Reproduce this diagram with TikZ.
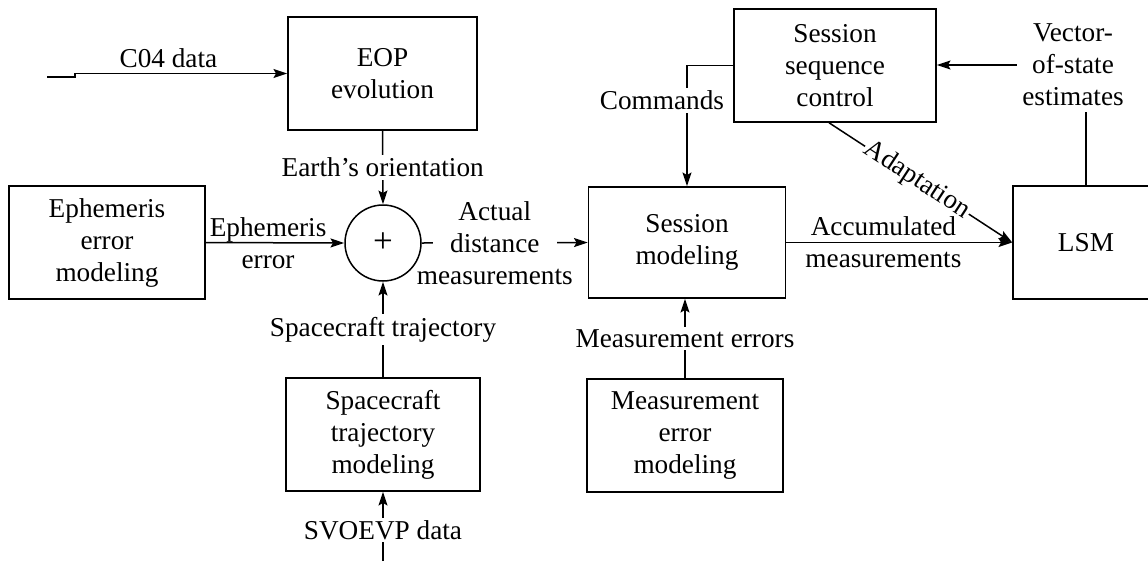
\documentclass[tikz,border=0pt]{standalone}
\usepackage{fontspec}
\setmainfont{Liberation Serif}
\usetikzlibrary{arrows.meta}
\tikzset{
  blk/.style={draw, minimum width=78.4pt, minimum height=45.2pt, align=center, inner sep=1pt},
  sumc/.style={draw, circle, minimum size=30.4pt, inner sep=0pt, font=\fontsize{14}{14}\selectfont},
  lbl/.style={fill=white, inner sep=1pt},
  arr/.style={-{Stealth[length=5.5pt,width=3.6pt,inset=1pt]}}
}
\newcommand{\wbg}[1]{{\setlength{\fboxsep}{0pt}\colorbox{white}{#1}}}
\begin{document}
\begin{tikzpicture}
    [x=0.4pt, y=-0.4pt, line width=0.6pt, font=\fontsize{10.9}{12.8}\selectfont]
    \useasboundingbox (0,0) rectangle (1148,561);
    %blocks
    \node[blk, minimum width=75.6pt] (eop) at (382.5,73.5) {EOP\\evolution};
    \node[blk] (eph) at (107,242.5) {Ephemeris\\error\\modeling};
    \node[sumc] (sum) at (383,243) {+};
    \node[blk, minimum width=78.8pt, minimum height=44.4pt] (sm) at (687,242.5) {Session\\modeling};
    \node[blk, minimum width=80.8pt] (ssc) at (835,65.5) {Session\\sequence\\control};
    \node[blk, minimum width=58.4pt] (lsm) at (1086,242.5) {LSM};
    \node[blk, minimum width=77.6pt] (stm) at (383,434.5) {Spacecraft\\trajectory\\modeling};
    \node[blk] (mem) at (685,435.5) {Measurement\\error\\modeling};
    \node[align=center, inner sep=2pt] (vos) at (1073,65) {Vector-\\of-state\\estimates};
    %inputs
    \coordinate (c04) at (47,77);
    \coordinate (svo) at (383,561);
    %connectors
    \draw[arr] (c04) -- ++(28,0) |- (eop.west)
    node[pos=0.72, above=1pt, inner sep=1pt] {C04 data};
    \draw[arr] (eop.south) -- (sum.north) node[lbl, midway] {Earth’s orientation};
    \draw[arr] (eph.east) -- (sum.west) node[pos=0.45, align=center] {Ephemeris\\error};
    \draw[arr] (sum.east) -- (sm.west)
    node[pos=0.44, align=center] {Actual\\\wbg{\hspace{7pt}distance\hspace{7pt}}\\measurements};
    \draw[arr] (stm.north) -- (sum.south) node[lbl, midway] {Spacecraft trajectory};
    \draw[arr] (svo) -- (stm.south) node[lbl, pos=0.45] {SVOEVP data};
    \draw[arr] (ssc.west) -| (sm.north) node[lbl, pos=0.645, xshift=-10pt] {Commands};
    \draw[arr] (mem.north) -- (mem.north |- sm.south) node[lbl, midway] {Measurement errors};
    \draw[arr] ([xshift=-2.4pt]ssc.south) -- (lsm.west)
    node[lbl, inner sep=0.5pt, sloped, pos=0.48] {Adaptation};
    \draw[arr] (sm.east) -- (lsm.west) node[pos=0.43, align=center] {Accumulated\\measurements};
    \draw[arr] (vos.west) -- (vos.west -| ssc.east);
    \draw (lsm.north) -- (lsm.north |- vos.south);
\end{tikzpicture}
\end{document}
